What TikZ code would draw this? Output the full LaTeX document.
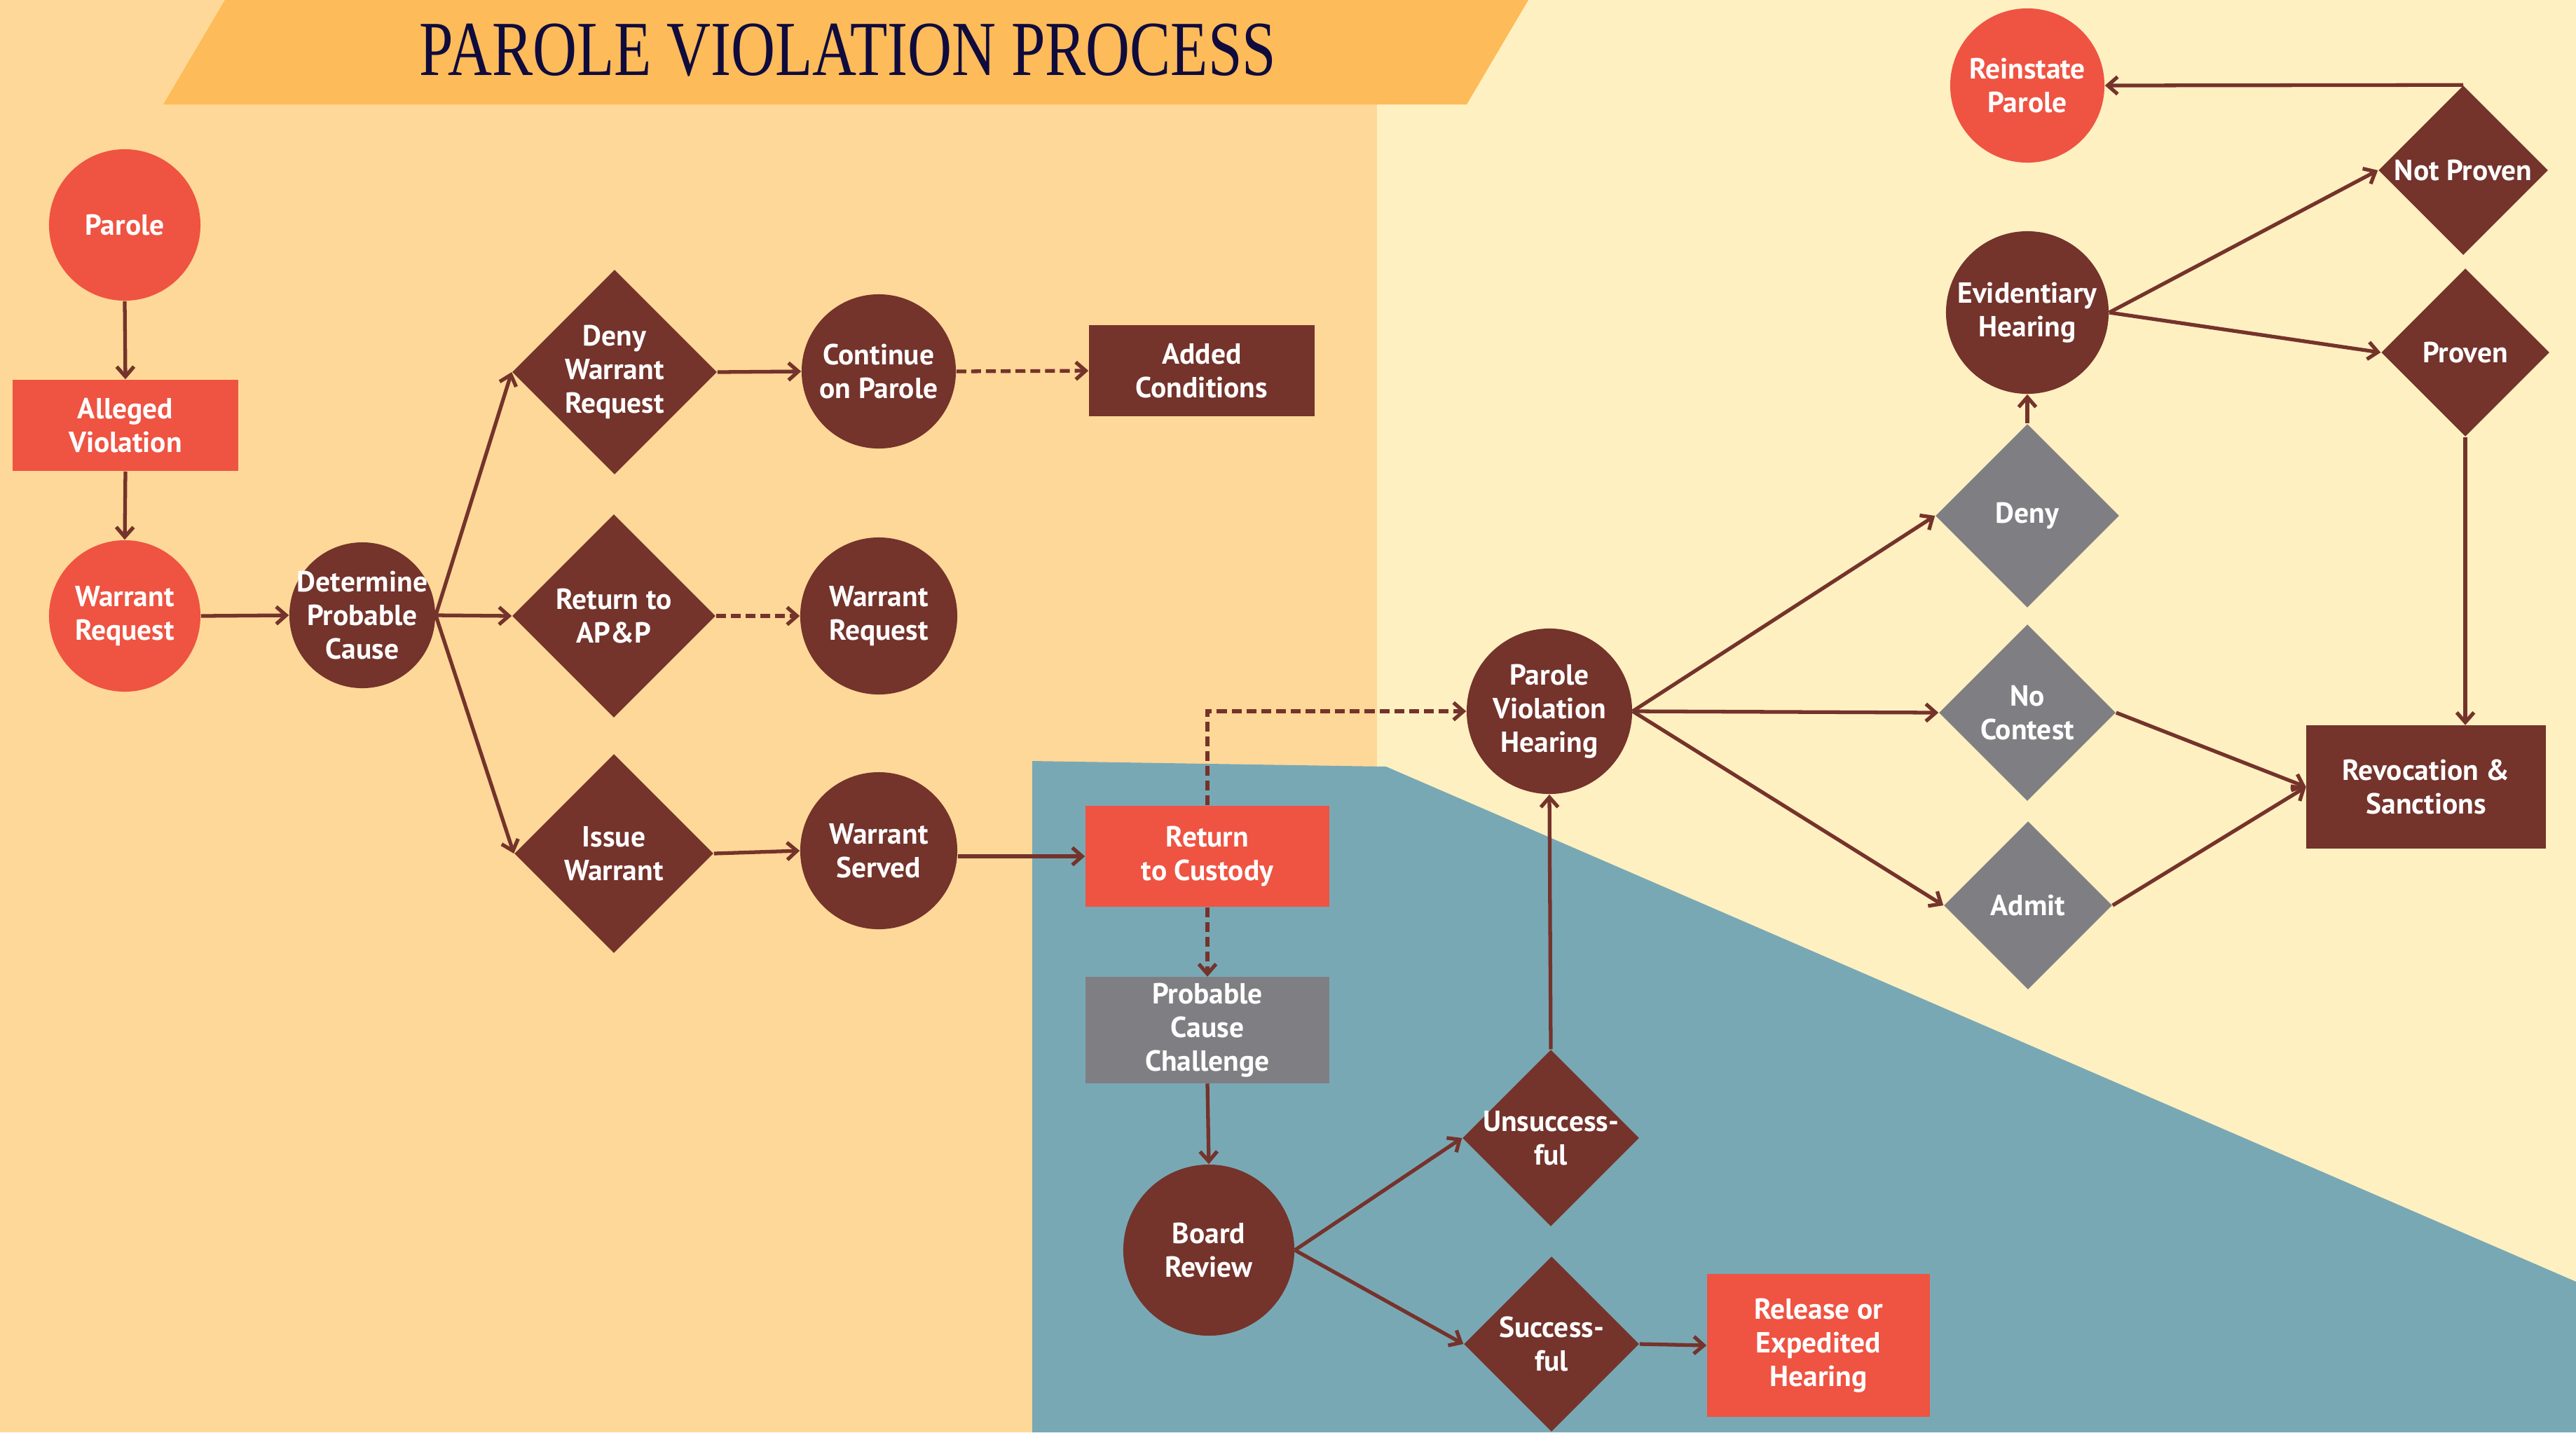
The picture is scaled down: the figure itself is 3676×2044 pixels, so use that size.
\documentclass[tikz,border=0pt]{standalone}
\usepackage{fontspec}
\setmainfont{PT Sans}
\newfontfamily\titlefont{Liberation Serif}
\usepackage{graphicx}
\usetikzlibrary{shapes.geometric,arrows.meta}
\definecolor{bgL}{HTML}{FED898}
\definecolor{bgR}{HTML}{FFF0C1}
\definecolor{banner}{HTML}{FDBB59}
\definecolor{cteal}{HTML}{79A8B5}
\definecolor{cred}{HTML}{EF5342}
\definecolor{cbrown}{HTML}{74332B}
\definecolor{cgray}{HTML}{7F7F83}
\definecolor{ctitle}{HTML}{100B3D}
\tikzset{
  txt/.style={text=white, font=\bfseries\fontsize{11.8}{13.6}\selectfont, align=center, inner sep=0pt},
  circ/.style={circle, inner sep=0pt, minimum size=#1},
  dia/.style={diamond, aspect=1, inner sep=0pt, minimum width=#1, minimum height=#1},
  box/.style={rectangle, txt},
  lab/.style={label={[txt]center:#1}},
  conn/.style={draw=cbrown, line width=1.5pt, -{Straight Barb[length=4pt,width=7pt]}},
  dconn/.style={conn, dash pattern=on 4pt off 2pt},
}
\begin{document}
\begin{tikzpicture}[x=0.01cm, y=-0.01cm]
\useasboundingbox (0,0) rectangle (3676,2044);
% backgrounds
\fill[bgL] (0,0) rectangle (1965,2044);
\fill[bgR] (1965,0) rectangle (3676,2044);
\fill[cteal] (1473,1086) -- (1978,1094) -- (3676,1829) -- (3676,2044) -- (1473,2044) -- cycle;
\fill[banner] (321,0) -- (2181,0) -- (2093,149) -- (233,149) -- cycle;
\node[font=\titlefont\fontsize{31}{32}\selectfont, text=ctitle, inner sep=0pt] (title) at (1210,72) {\scalebox{0.8}[1.02]{PAROLE VIOLATION PROCESS}};
% nodes
\node[circ=2.16cm, fill=cred, lab={Parole}] (par) at (178,321) {};
\node[box, fill=cred, minimum width=3.22cm, minimum height=1.30cm] (av) at (179,607) {Alleged\\Violation};
\node[circ=2.16cm, fill=cred, lab={Warrant\\Request}] (wr) at (178,879) {};
\node[circ=2.08cm, fill=cbrown, lab={Determine\\Probable\\Cause}] (dpc) at (517,878) {};
\node[dia=2.92cm, fill=cbrown, lab={Deny\\Warrant\\Request}] (dwr) at (877,531) {};
\node[dia=2.90cm, fill=cbrown, lab={Return to\\AP\&P}] (ap) at (876,879) {};
\node[dia=2.84cm, fill=cbrown, lab={Issue\\Warrant}] (iw) at (876,1218) {};
\node[circ=2.20cm, fill=cbrown, lab={Continue\\on Parole}] (cop) at (1254,530) {};
\node[circ=2.24cm, fill=cbrown, lab={Warrant\\Request}] (wr2) at (1254,879) {};
\node[circ=2.24cm, fill=cbrown, lab={Warrant\\Served}] (ws) at (1254,1214) {};
\node[box, fill=cbrown, minimum width=3.22cm, minimum height=1.29cm] (ac) at (1715,529) {Added\\Conditions};
\node[box, fill=cred, minimum width=3.48cm, minimum height=1.44cm] (rc) at (1723,1222) {Return\\to Custody};
\node[box, fill=cgray, minimum width=3.48cm, minimum height=1.51cm] (pcc) at (1723,1470) {Probable\\Cause\\Challenge};
\node[circ=2.44cm, fill=cbrown, lab={Board\\Review}] (br) at (1725,1784) {};
\node[dia=2.52cm, fill=cbrown, lab={Unsuccess-\\ful}] (us) at (2213,1624) {};
\node[dia=2.50cm, fill=cbrown, lab={Success-\\ful}] (su) at (2214,1918) {};
\node[box, fill=cred, minimum width=3.18cm, minimum height=2.03cm] (rel) at (2595,1920) {Release or\\Expedited\\Hearing};
\node[circ=2.36cm, fill=cbrown, lab={Parole\\Violation\\Hearing}] (pvh) at (2211,1015) {};
\node[dia=2.62cm, fill=cgray, lab={Deny}] (dn) at (2893,736) {};
\node[dia=2.52cm, fill=cgray, lab={No\\Contest}] (nc) at (2893,1017) {};
\node[dia=2.40cm, fill=cgray, lab={Admit}] (ad) at (2894,1292) {};
\node[box, fill=cbrown, minimum width=3.41cm, minimum height=1.75cm] (rs) at (3462,1123) {Revocation \&\\Sanctions};
\node[circ=2.32cm, fill=cbrown, lab={Evidentiary\\Hearing}] (eh) at (2893,446) {};
\node[circ=2.20cm, fill=cred, lab={Reinstate\\Parole}] (rp) at (2893,122) {};
\node[dia=2.42cm, fill=cbrown, lab={Not Proven}] (np) at (3515,243) {};
\node[dia=2.40cm, fill=cbrown, lab={Proven}] (pv) at (3518,503) {};
% connectors
\draw[conn] (par.south) -- (av.north);
\draw[conn] (av.south) -- (wr.north);
\draw[conn] (wr.east) -- (dpc.west);
\draw[conn] (dpc.east) -- (dwr.west);
\draw[conn] (dpc.east) -- (ap.west);
\draw[conn] (dpc.east) -- (iw.west);
\draw[conn] (dwr.east) -- (cop.west);
\draw[dconn] (cop.east) -- (ac.west);
\draw[dconn] (ap.east) -- (wr2.west);
\draw[conn] (iw.east) -- (ws.west);
\draw[conn] (ws.east |- rc.west) -- (rc.west);
\draw[dconn] (rc.north) |- (pvh.west);
\draw[dconn] (rc.south) -- (pcc.north);
\draw[conn] (pcc.south) -- (br.north);
\draw[conn] (br.east) -- (us.west);
\draw[conn] (br.east) -- (su.west);
\draw[conn] (us.north) -- (pvh.south);
\draw[conn] (su.east) -- (rel.west);
\draw[conn] (pvh.east) -- (dn.west);
\draw[conn] (pvh.east) -- (nc.west);
\draw[conn] (pvh.east) -- (ad.west);
\draw[conn] (dn.north) -- (eh.south);
\draw[conn] (eh.east) -- (np.west);
\draw[conn] (eh.east) -- (pv.west);
\draw[conn] (np.north) -- (rp.east);
\draw[conn] (pv.south) -- (pv.south |- rs.north);
\draw[conn] (nc.east) -- (rs.west);
\draw[conn] (ad.east) -- (rs.west);
\end{tikzpicture}
\end{document}
